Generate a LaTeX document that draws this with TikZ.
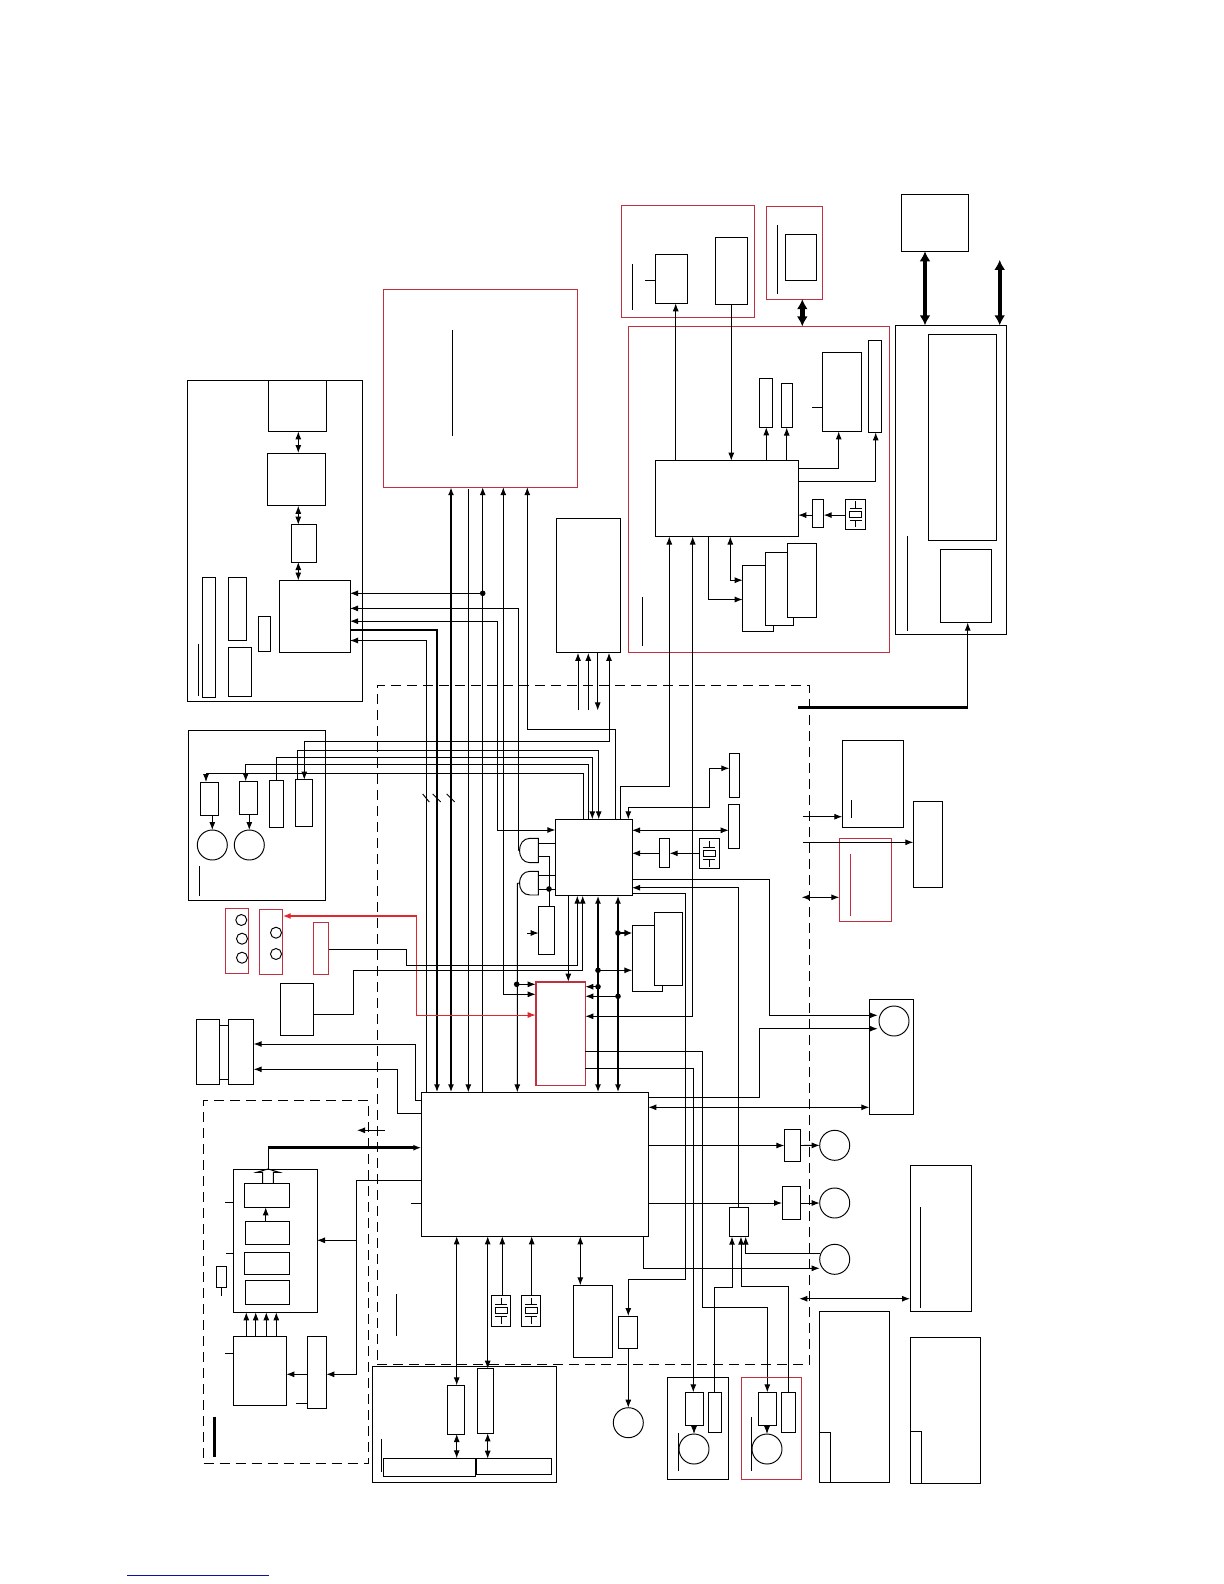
\documentclass[tikz,border=0pt]{standalone}
\usepackage{xcolor}
\usetikzlibrary{arrows.meta,fit}
\definecolor{boxred}{RGB}{192,48,62}
\definecolor{sigred}{RGB}{226,38,44}
\definecolor{linkblue}{RGB}{10,20,160}

\begin{document}
\begin{tikzpicture}[
  x=0.5pt, y=-0.5pt,
  line width=0.48pt,
  >={Latex[length=4pt,width=3pt]},
  blk/.style={draw, inner sep=0pt, outer sep=0pt},
  redblk/.style={draw=boxred, inner sep=0pt, outer sep=0pt},
  zone/.style={draw, dashed, dash pattern=on 5pt off 3pt, inner sep=0pt, outer sep=0pt},
  gate/.style={inner sep=0pt, outer sep=0pt},
  motor/.style={draw, circle, minimum size=15pt, inner sep=0pt, outer sep=0pt},
  lamp/.style={draw, circle, minimum size=5.5pt, inner sep=0pt, outer sep=0pt},
  dot/.style={fill, circle, minimum size=2.8pt, inner sep=0pt, outer sep=0pt},
  arr/.style={->},
  darr/.style={<->},
  bus/.style={line width=1.3pt},
  fat/.style={line width=2.2pt, >={Latex[length=5pt,width=5.5pt]}},
  xtal/.pic={
    \draw (-6,-3) rectangle (6,3);
    \draw (-6,-6) -- (6,-6) (-6,6) -- (6,6);
    \draw (0,-13) -- (0,-6) (0,6) -- (0,13);
  }
]
\useasboundingbox (0,0) rectangle (1224,1584);

% dashed areas
\node[zone, fit={(377.3,685.2) (809.3,1364.7)}] (mainzone) {};
\node[zone, fit={(203.7,1100.3) (368.3,1463.3)}] (camzone) {};

% top left panel
\node[blk, fit={(187.3,380) (362.7,701.8)}] (dispgrp) {};
\node[blk, fit={(268.7,380) (326,431.4)}] (disptop) {};
\node[blk, fit={(267.3,453) (325.7,505.8)}] (dispbuf) {};
\node[blk, fit={(291.7,524.7) (316,562)}] (dispmid) {};
\node[blk, fit={(279.3,580.5) (350,652.9)}] (dispctl) {};
\node[blk, fit={(202.3,577.8) (215.7,697.6)}] (dispa) {};
\node[blk, fit={(228,577.8) (246.7,640.8)}] (dispb) {};
\node[blk, fit={(258.3,616) (270.7,651.5)}] (dispc) {};
\node[blk, fit={(228.3,647.7) (251.7,696.6)}] (dispd) {};
\draw (198.3,643.9) -- (198.3,695.6);
\draw[darr] (disptop.south -| 298.3,0) -- (dispbuf.north -| 298.3,0);
\draw[darr] (dispbuf.south -| 298.3,0) -- (dispmid.north -| 298.3,0);
\draw[darr] (dispmid.south -| 298.3,0) -- (dispctl.north -| 298.3,0);

% memory
\node[redblk, fit={(383.3,289.5) (577.7,487.2)}] (memred) {};
\draw (452.3,330.2) -- (452.3,435.6);
\node[blk, fit={(556.3,518.2) (620.7,652.9)}] (extbox) {};
\coordinate (exta) at (578,710.4);
\coordinate (extb) at (588.3,710.4);
\coordinate (extc) at (597.7,710.4);
\draw[arr] (exta) -- (extbox.south -| exta);
\draw[arr] (extb) -- (extbox.south -| extb);
\draw[arr] (extbox.south -| extc) -- (extc);

% top right
\node[redblk, fit={(621.3,205.1) (754.7,317.4)}] (tunered) {};
\node[blk, fit={(655.7,254.4) (687.3,303.3)}] (tunea) {};
\node[blk, fit={(715.7,237.5) (747,304.3)}] (tuneb) {};
\draw (632.3,264) -- (632.3,309.8);
\draw (tunea.west |- 0,280.2) -- ++(-10.3,0);
\node[redblk, fit={(766.3,206.2) (822.3,299.2)}] (cardred) {};
\node[blk, fit={(785,234.4) (816.3,280.2)}] (cardbox) {};
\draw (777.3,225) -- (777.3,293.7);
\node[redblk, fit={(628.3,326.4) (889.3,652.5)}] (sigred) {};
\node[blk, fit={(901.7,194.5) (968.3,251.3)}] (hostbox) {};
\node[blk, fit={(895.3,325.3) (1006,634.3)}] (pwrgrp) {};
\node[blk, fit={(928.7,334) (996,540.6)}] (pwrtall) {};
\node[blk, fit={(940.3,549.2) (991.7,622.6)}] (pwrlow) {};
\draw (907.3,536.1) -- (907.3,631.2);
\draw[darr, fat] (cardred.south -| 802.3,0) -- (sigred.north -| 802.3,0);
\draw[darr, fat] (hostbox.south -| 925,0) -- (pwrgrp.north -| 925,0);
\coordinate (hostfree) at (999.7,259.9);
\draw[darr, fat] (hostfree) -- (pwrgrp.north -| hostfree);

\node[blk, fit={(655.3,460.7) (798.3,536.5)}] (sigic) {};
\node[blk, fit={(759.3,378) (772.7,427.3)}] (siga) {};
\node[blk, fit={(781.3,383.9) (792,427.6)}] (sigb) {};
\node[blk, fit={(822.7,352.2) (861.7,431.4)}] (sigc) {};
\node[blk, fit={(868.3,340.8) (881,432.4)}] (sigd) {};
\draw (sigc.west |- 0,407.3) -- ++(-10.7,0);
\node[blk, fit={(812.3,499.3) (823.7,527.5)}] (sigosc) {};
\node[blk, fit={(845.3,499.3) (865.7,529.2)}] (sigx) {};
\pic at (sigx.center) {xtal};
\node[blk, fill=white, fit={(742.7,565.7) (773,631.8)}] (rama) {};
\node[blk, fill=white, fit={(765.3,552.3) (793.7,625.3)}] (ramb) {};
\node[blk, fill=white, fit={(787.3,543.3) (816.7,617.4)}] (ramc) {};
\draw (642.3,597) -- (642.3,645.6);
\draw[arr] (sigic.north -| 675.7,0) -- (tunea.south -| 675.7,0);
\draw[arr] (tuneb.south -| 731.3,0) -- (sigic.north -| 731.3,0);
\draw[arr] (sigic.north -| 766.3,0) -- (siga.south -| 766.3,0);
\draw[arr] (sigic.north -| 786.7,0) -- (sigb.south -| 786.7,0);
\draw[arr] (sigic.east |- 0,468.3) -- (838.7,468.3) -- (sigc.south -| 838.7,0);
\draw[arr] (sigic.east |- 0,481.4) -- (875.7,481.4) -- (sigd.south -| 875.7,0);
\draw[arr] (sigx.west |- 0,515.1) -- (sigosc.east |- 0,515.1);
\draw[arr] (sigosc.west |- 0,515.1) -- (sigic.east |- 0,515.1);
\draw[arr] (sigic.south -| 708.3,0) -- (708.3,599.5) -- (rama.west |- 0,599.5);
\draw[darr] (sigic.south -| 730.3,0) -- (730.3,580.2) -- (rama.west |- 0,580.2);

% main area, upper controller
\node[blk, fit={(555.3,819.3) (632,895.7)}] (ctlic) {};
\node[blk, fit={(729.3,753.3) (739.7,797.3)}] (ctla) {};
\node[blk, fit={(728.7,804.3) (739.7,848.3)}] (ctlb) {};
\node[blk, fit={(659,838.3) (669.7,867)}] (ctlosc) {};
\node[blk, fit={(699.3,838.3) (719,868.7)}] (ctlx) {};
\pic at (ctlx.center) {xtal};
\node[blk, fit={(538.7,906.3) (554.3,954.3)}] (ctlsw) {};
\node[blk, fill=white, fit={(632.3,925.3) (662.3,991.7)}] (flasha) {};
\node[blk, fill=white, fit={(654.3,912.3) (682.7,985.7)}] (flashb) {};

% gates
\node[gate, fit={(520,838.3) (538.3,862.7)}] (gatea) {};
\node[gate, fit={(520,871.3) (538.3,895)}] (gateb) {};
\draw (gatea.north east) -- (530,838.3) .. controls (516,838.3) and (516,862.7) .. (530,862.7) -- (gatea.south east) -- cycle;
\draw (gateb.north east) -- (530,871.3) .. controls (516,871.3) and (516,895) .. (530,895) -- (gateb.south east) -- cycle;

% red chip and main chip
\node[draw=boxred, line width=0.8pt, inner sep=0pt, outer sep=0pt, fit={(535.7,981.7) (585.3,1085.3)}] (redic) {};
\node[blk, fit={(421.3,1092.3) (648.3,1236.3)}] (mainic) {};

% bus to memory
\draw[<-] (dispctl.east |- 0,640.5) -- (426.7,640.5) -- (mainic.north -| 426.7,0);
\draw[arr, bus] (dispctl.east |- 0,630.1) -- (437,630.1) -- (mainic.north -| 437,0);
\draw[darr, bus] (memred.south -| 451,0) -- (mainic.north -| 451,0);
\coordinate (memfree) at (468.3,489.3);
\draw[arr] (memfree) -- (mainic.north -| memfree);
\draw[arr] (mainic.north -| 482.7,0) -- (memred.south -| 482.7,0);
\draw[arr] (482.7,593.3) -- (dispctl.east |- 0,593.3);
\node[dot] (dotmem) at (482.7,593.3) {};
\draw[arr] (503.3,994.3) -- (503.3,489) -- (memred.south -| 503.3,0);
\draw[arr] (503.3,994.3) -- (redic.west |- 0,994.3);
\draw[arr] (518,850) -- (518,608.4) -- (dispctl.east |- 0,608.4);
\draw (518,850) -- (gatea.west);
\draw[arr] (497,830) -- (497,621.2) -- (dispctl.east |- 0,621.2);
\draw[arr] (497,830) -- (ctlic.west |- 0,830);
\draw[arr] (ctlic.north -| 615,0) -- (615,729) -- (527.3,729) -- (memred.south -| 527.3,0);

% ticks on the bus
\foreach \xa/\xb in {422.7/429.3,432.7/440.7,446.7/454.7}
  \draw (\xa,794) -- (\xb,802);

% second panel
\node[blk, fit={(188.3,730.7) (325.7,900.3)}] (drvgrp) {};
\node[blk, fit={(200.3,782) (218.7,815)}] (drva) {};
\node[blk, fit={(239,781.3) (257.7,814.7)}] (drvb) {};
\node[blk, fit={(269.7,780.7) (283,827)}] (drvc) {};
\node[blk, fit={(295,779.7) (312,826.3)}] (drvd) {};
\node[motor] (mota) at (212.3,845) {};
\node[motor] (motb) at (249.3,845) {};
\draw (199.3,866) -- (199.3,895.7);
\draw[arr] (drva.south -| mota.north) -- (mota.north);
\draw[arr] (drvb.south -| motb.north) -- (motb.north);
\draw[darr] (drvd.north -| 304.3,0) -- (304.3,741.7) -- (609,741.7) -- (extbox.south -| 609,0);
\draw[arr] (drvd.north -| 297,0) -- (297,750) -- (598.7,750) -- (ctlic.north -| 598.7,0);
\draw[arr] (drvc.north -| 276.3,0) -- (276.3,757) -- (592.3,757) -- (ctlic.north -| 592.3,0);
\draw[arr] (ctlic.north -| 588.7,0) -- (588.7,764) -- (245.7,764) -- (drvb.north -| 245.7,0);
\draw[arr] (ctlic.north -| 583.3,0) -- (583.3,773.7) -- (206,773.7) -- (drva.north -| 206,0);

% controller connections
\draw[arr] (ctlic.north -| 620,0) -- (620,786) -- (669.3,786) -- (669.3,540) -- (sigic.south -| 669.3,0);
\draw[darr] (ctla.west |- 0,768.3) -- (709.3,768.3) -- (709.3,807.7) -- (628.3,807.7) -- (ctlic.north -| 628.3,0);
\draw[darr] (ctlic.east |- 0,830.3) -- (ctlb.west |- 0,830.3);
\draw[arr] (ctlx.west |- 0,853.3) -- (ctlosc.east |- 0,853.3);
\draw[arr] (ctlosc.west |- 0,853.3) -- (ctlic.east |- 0,853.3);
\draw (gatea.east |- 0,843) -- (ctlic.west |- 0,843);
\draw (gatea.east |- 0,856.7) -- (549,856.7) -- (ctlsw.north -| 549,0);
\draw (gateb.east |- 0,875) -- (ctlic.west |- 0,875);
\draw (gateb.east |- 0,889) -- (ctlic.west |- 0,889);
\node[dot] (dotgate) at (549,889) {};
\coordinate (swfree) at (527.3,933);
\draw[arr] (swfree) -- (ctlsw.west |- swfree);
\draw[arr] (gateb.west) -- (517.3,883.3) -- (mainic.north -| 517.3,0);
\draw[arr] (517.3,984.3) -- (redic.west |- 0,984.3);
\node[dot] (dotred) at (516.7,984.3) {};
\draw[arr] (ctlic.south -| 568.3,0) -- (redic.north -| 568.3,0);
\draw[darr, bus] (ctlic.south -| 598,0) -- (mainic.north -| 598,0);
\draw[darr, bus] (ctlic.south -| 618,0) -- (mainic.north -| 618,0);
\draw[->, >={Latex[length=4pt,width=3.5pt]}, bus] (618,933) -- (flasha.west |- 0,933);
\draw[arr] (598,970.3) -- (flasha.west |- 0,970.3);
\draw[arr] (598,986.7) -- (redic.east |- 0,986.7);
\draw[arr] (618,996.3) -- (redic.east |- 0,996.3);
\node[dot] (dotfa) at (618,933) {};
\node[dot] (dotfb) at (598,970.3) {};
\node[dot] (dotfc) at (598,986.7) {};
\node[dot] (dotfd) at (618,996.3) {};
\draw[arr] (692.7,1016.3) -- (redic.east |- 0,1016.3);
\draw[arr] (692.7,1016.3) -- (692.7,540) -- (sigic.south -| 692.7,0);

% red parts on the left
\node[redblk, fit={(225.3,908.3) (248.7,973.3)}] (lampa) {};
\node[redblk, fit={(259.7,909.3) (282.7,974.3)}] (lampb) {};
\node[redblk, fit={(313,922.7) (328.7,974.3)}] (lampc) {};
\node[lamp] (la) at (241.3,920) {};
\node[lamp] (lb) at (242,938.7) {};
\node[lamp] (lc) at (242,957.7) {};
\node[lamp] (ld) at (276,932.7) {};
\node[lamp] (le) at (276,954) {};
\draw[->, draw=sigred, line width=1.1pt] (416.7,916) -- (lampb.east |- 0,916);
\draw[->, draw=sigred] (416.7,916) -- (416.7,1015) -- (redic.west |- 0,1015);
\draw[arr] (lampc.east |- 0,949.7) -- (406.7,949.7) -- (406.7,965.3) -- (577.3,965.3) -- (ctlic.south -| 577.3,0);

\node[blk, fit={(280.3,983.3) (313,1035.3)}] (keybox) {};
\draw[arr] (keybox.east |- 0,1014) -- (353.3,1014) -- (353.3,970.7) -- (582.7,970.7) -- (ctlic.south -| 582.7,0);
\node[blk, fit={(196.3,1019.3) (219.7,1084)}] (cona) {};
\node[blk, fit={(228,1019.7) (253.7,1084)}] (conb) {};
\draw (cona.east |- 0,1025.3) -- (conb.west |- 0,1025.3);
\draw (cona.east |- 0,1079) -- (conb.west |- 0,1079);
\draw[arr] (mainic.west |- 0,1100.3) -- (415.7,1100.3) -- (415.7,1044) -- (conb.east |- 0,1044);
\draw[arr] (mainic.west |- 0,1113.3) -- (397.7,1113.3) -- (397.7,1069.3) -- (conb.east |- 0,1069.3);

% right side
\node[blk, fit={(842.3,740.3) (903.3,827.3)}] (ioa) {};
\draw (851.3,800) -- (851.3,817.7);
\node[redblk, fit={(839.3,838.3) (891.3,921.3)}] (iored) {};
\draw[draw=boxred] (850.3,854) -- (850.3,915.7);
\node[blk, fit={(913.3,801) (942,887)}] (iob) {};
\coordinate (ioina) at (803,816.7);
\coordinate (ioinb) at (803,842.3);
\coordinate (ioinc) at (801.7,897.3);
\draw[arr] (ioina) -- (ioa.west |- ioina);
\draw[arr] (ioinb) -- (iob.west |- ioinb);
\draw[darr] (ioinc) -- (iored.west |- ioinc);
\coordinate (pwrfree) at (798,707.6);
\draw[bus] (pwrfree) -- (967.7,707.6);
\draw[arr] (967.7,707.6) -- (pwrlow.south -| 967.7,0);

\node[blk, fit={(869.3,999) (913.3,1114.3)}] (ftbox) {};
\node[motor] (motf) at (894,1021) {};
\draw[arr] (ctlic.east |- 0,879.3) -- (769.3,879.3) -- (769.3,1015.3) -- (877.7,1015.3);
\draw[arr] (mainic.east |- 0,1097.3) -- (759.3,1097.3) -- (759.3,1028.7) -- (877.7,1028.7);
\draw[darr] (mainic.east |- 0,1107.3) -- (ftbox.west |- 0,1107.3);
\draw[arr] (redic.east |- 0,1051) -- (702.3,1051) -- (702.3,1307.3) -- (767.3,1307.3) -- (767.3,1392.3);
\draw[arr] (redic.east |- 0,1068.3) -- (693.3,1068.3) -- (693.3,1392.3);

% drivers below main chip
\node[blk, fit={(784.3,1129.3) (800.7,1161.7)}] (pdra) {};
\node[blk, fit={(782,1186.7) (800.7,1219.3)}] (pdrb) {};
\node[blk, fit={(729,1207.3) (748.3,1236.7)}] (swbox) {};
\node[motor] (motc) at (834.7,1145.3) {};
\node[motor] (motd) at (834.7,1203) {};
\node[motor] (mote) at (834.7,1259.3) {};
\draw[arr] (mainic.east |- pdra.west) -- (pdra.west);
\draw[arr] (mainic.east |- pdrb.west) -- (pdrb.west);
\draw[arr] (pdra.east) -- (motc.west);
\draw[arr] (pdrb.east) -- (motd.west);
\draw[arr] (mainic.south -| 643.7,0) -- (643.7,1268.3) -- (mote.west |- 0,1268.3);
\draw[arr] (mote.west |- 0,1253.3) -- (745.7,1253.3) -- (swbox.south -| 745.7,0);
\draw[arr] (swbox.north -| 738.3,0) -- (738.3,887.7) -- (ctlic.east |- 0,887.7);
\node[blk, fit={(618.3,1316) (637.3,1348.3)}] (audbox) {};
\node[motor] (motg) at (628.3,1422.7) {};
\draw[arr] (ctlic.east |- 0,893) -- (685.3,893) -- (685.3,1279.7) -- (628.3,1279.7) -- (audbox.north -| 628.3,0);
\draw[arr] (audbox.south -| motg.north) -- (motg.north);

% panels at the bottom right
\node[blk, fit={(667.7,1377.3) (728.7,1479)}] (spka) {};
\node[blk, fit={(685,1392.3) (703.3,1425)}] (spkab) {};
\node[blk, fit={(708.3,1392.3) (721.7,1432.3)}] (spkac) {};
\node[motor] (motp) at (694,1449) {};
\draw[arr] (spkab.south -| motp.north) -- (motp.north);
\draw (678.3,1433.3) -- (678.3,1470.7);
\node[redblk, fit={(741.3,1377.3) (801.7,1479.3)}] (spkb) {};
\node[blk, fit={(758.3,1392.3) (776.7,1425)}] (spkbb) {};
\node[blk, fit={(781.7,1392.3) (795,1432.3)}] (spkbc) {};
\node[motor] (motq) at (767,1449) {};
\draw[arr] (spkbb.south -| motq.north) -- (motq.north);
\draw (751.7,1417.3) -- (751.7,1470.7);
\draw[arr] (spkac.north -| 714,0) -- (714,1287.3) -- (732,1287.3) -- (swbox.south -| 732,0);
\draw[arr] (spkbc.north -| 788.7,0) -- (788.7,1286.7) -- (741,1286.7) -- (swbox.south -| 741,0);

\node[blk, fit={(910,1165) (971,1311.7)}] (extr) {};
\draw (920.3,1207) -- (920.3,1307.7);
\coordinate (extrfree) at (799.3,1298.7);
\draw[darr] (extrfree) -- (extr.west |- extrfree);
\node[blk, fit={(819.3,1311.3) (889.3,1482.3)}] (notea) {};
\node[blk, fit={(819.3,1432.3) (830.7,1482.3)}] (noteas) {};
\node[blk, fit={(910.3,1337.3) (980.3,1483.3)}] (noteb) {};
\node[blk, fit={(910.3,1431.3) (921.7,1483.3)}] (notebs) {};

% main chip below
\node[blk, fit={(573.3,1285.3) (612.7,1357.3)}] (rombox) {};
\node[blk, fit={(491.3,1295.3) (510.7,1326)}] (xa) {};
\node[blk, fit={(521.3,1295.3) (540.7,1326)}] (xb) {};
\pic at (xa.center) {xtal};
\pic at (xb.center) {xtal};
\draw[arr] (xa.north -| 502.3,0) -- (mainic.south -| 502.3,0);
\draw[arr] (xb.north -| 531.7,0) -- (mainic.south -| 531.7,0);
\draw[darr] (mainic.south -| 580.3,0) -- (rombox.north -| 580.3,0);
\draw (396.3,1294) -- (396.3,1335.7);
\draw (mainic.west |- 0,1203) -- ++(-10.6,0);

% bottom panel
\node[blk, fit={(372.3,1366.7) (556.7,1482.7)}] (slotgrp) {};
\node[blk, fit={(447.7,1385.3) (464,1434)}] (slota) {};
\node[blk, fit={(477.3,1368.7) (493.3,1433.3)}] (slotb) {};
\node[blk, fit={(383.3,1458.3) (475,1476.7)}] (slotc) {};
\node[blk, fit={(476.3,1458.7) (551,1474.7)}] (slotd) {};
\draw (381.3,1439) -- (381.3,1471.7);
\draw[darr] (mainic.south -| 456.7,0) -- (slota.north -| 456.7,0);
\draw[darr] (slota.south -| 456.7,0) -- (slotc.north -| 456.7,0);
\draw[darr] (mainic.south -| 487.7,0) -- (slotb.north -| 487.7,0);
\draw[darr] (slotb.south -| 487.7,0) -- (slotd.north -| 487.7,0);

% camera area
\node[blk, fit={(233.3,1169) (317,1312.3)}] (camgrp) {};
\node[blk, fit={(244.3,1183.3) (289.7,1207.3)}] (cama) {};
\node[blk, fit={(245,1221.7) (289.3,1244)}] (camb) {};
\node[blk, fit={(244.3,1252) (289.7,1274.3)}] (camc) {};
\node[blk, fit={(245.3,1280.7) (289.7,1304.7)}] (camd) {};
\node[blk, fit={(233.7,1336.7) (286.3,1405.3)}] (came) {};
\node[blk, fit={(307,1336.7) (326.3,1408.7)}] (camf) {};
\node[blk, fit={(216.3,1266.3) (226.7,1287.3)}] (camg) {};
\draw (camg.south) -- ++(0,8.4);
\draw (camgrp.west |- 0,1202.7) -- ++(-8.3,0);
\draw (camgrp.west |- 0,1253.3) -- ++(-7.3,0);
\draw (came.west |- 0,1353) -- ++(-8.7,0);
\draw (camf.west |- 0,1403.3) -- ++(-11,0);
\draw[bus] (214.7,1416.7) -- (214.7,1456.7);
\draw (cama.north -| 262.7,0) -- (262.7,1172.3) -- (256.7,1172.3) -- (268,1169) -- (279.3,1172.3) -- (273.3,1172.3) -- (cama.north -| 273.3,0);
\draw[arr] (camb.north -| 265.7,0) -- (cama.south -| 265.7,0);
\draw[arr] (came.north -| 246.3,0) -- (camgrp.south -| 246.3,0);
\draw[arr] (came.north -| 255.7,0) -- (camgrp.south -| 255.7,0);
\draw[arr] (came.north -| 266.3,0) -- (camgrp.south -| 266.3,0);
\draw[arr] (came.north -| 276.3,0) -- (camgrp.south -| 276.3,0);
\draw[arr] (camf.west |- 0,1374.3) -- (came.east |- 0,1374.3);
\draw (camgrp.north -| 268.3,0) -- (268.3,1147.7);
\draw[arr, bus] (268.3,1147.7) -- (mainic.west |- 0,1147.7);
\draw[arr] (mainic.west |- 0,1180.7) -- (356.7,1180.7) -- (356.7,1374.3) -- (camf.east |- 0,1374.3);
\draw[arr] (356.7,1240.3) -- (camgrp.east |- 0,1240.3);
\coordinate (camfree) at (385,1130.3);
\draw[arr] (camfree) -- (357,1130.3);

% link line at the foot of the page
\draw[draw=linkblue] (127,1575) -- (269,1575);
\end{tikzpicture}
\end{document}
